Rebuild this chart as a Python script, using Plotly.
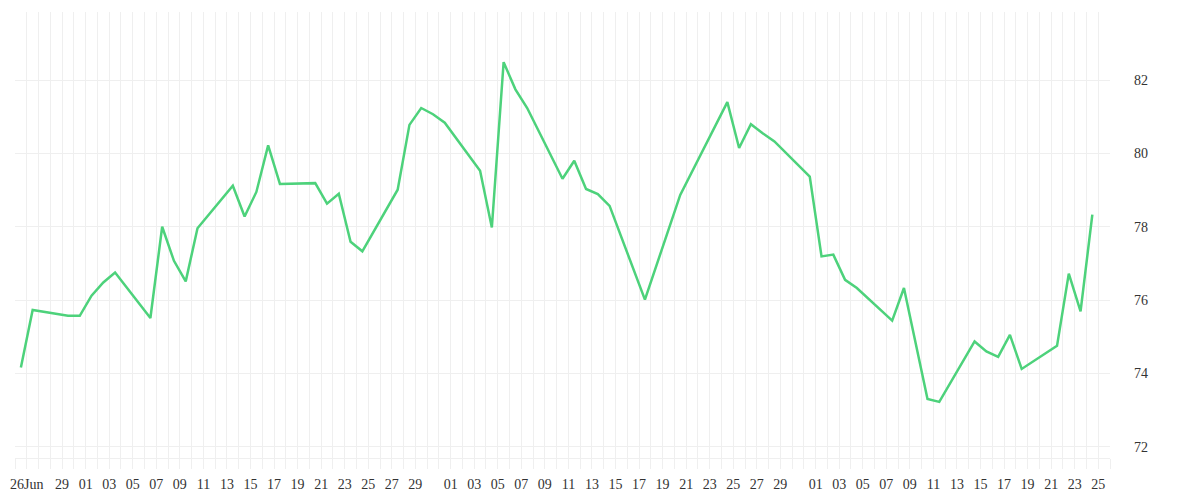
import pandas as pd
import plotly.graph_objects as go

# daily values (trading days only)
dates = ["2020-06-25", "2020-06-26", "2020-06-29", "2020-06-30",
         "2020-07-01", "2020-07-02", "2020-07-03", "2020-07-06", "2020-07-07",
         "2020-07-08", "2020-07-09", "2020-07-10", "2020-07-13", "2020-07-14",
         "2020-07-15", "2020-07-16", "2020-07-17", "2020-07-20", "2020-07-21",
         "2020-07-22", "2020-07-23", "2020-07-24", "2020-07-27", "2020-07-28",
         "2020-07-29", "2020-07-30", "2020-07-31",
         "2020-08-03", "2020-08-04", "2020-08-05", "2020-08-06", "2020-08-07",
         "2020-08-10", "2020-08-11", "2020-08-12", "2020-08-13", "2020-08-14",
         "2020-08-17", "2020-08-20", "2020-08-24", "2020-08-25", "2020-08-26",
         "2020-08-27", "2020-08-28", "2020-08-31",
         "2020-09-01", "2020-09-02", "2020-09-03", "2020-09-04", "2020-09-07",
         "2020-09-08", "2020-09-10", "2020-09-11", "2020-09-14", "2020-09-15",
         "2020-09-16", "2020-09-17", "2020-09-18", "2020-09-21", "2020-09-22",
         "2020-09-23", "2020-09-24"]

values = [74.16, 75.73, 75.57, 75.57,
          76.12, 76.48, 76.75, 75.51, 78.0,
          77.07, 76.51, 77.96, 79.12, 78.28,
          78.95, 80.22, 79.17, 79.19, 78.63,
          78.90, 77.59, 77.33, 79.01, 80.78,
          81.24, 81.07, 80.84,
          79.53, 77.98, 82.49, 81.75, 81.24,
          79.31, 79.80, 79.03, 78.89, 78.57,
          76.01, 78.87, 81.40, 80.15, 80.80,
          80.55, 80.33, 79.37,
          77.19, 77.24, 76.55, 76.33, 75.44,
          76.33, 73.30, 73.22, 74.87, 74.60,
          74.45, 75.05, 74.12, 74.75, 76.72,
          75.69, 78.33]

tick_dates = ["2020-06-26", "2020-06-29",
              "2020-07-01", "2020-07-03", "2020-07-05", "2020-07-07", "2020-07-09",
              "2020-07-11", "2020-07-13", "2020-07-15", "2020-07-17", "2020-07-19",
              "2020-07-21", "2020-07-23", "2020-07-25", "2020-07-27", "2020-07-29",
              "2020-08-01", "2020-08-03", "2020-08-05", "2020-08-07", "2020-08-09",
              "2020-08-11", "2020-08-13", "2020-08-15", "2020-08-17", "2020-08-19",
              "2020-08-21", "2020-08-23", "2020-08-25", "2020-08-27", "2020-08-29",
              "2020-09-01", "2020-09-03", "2020-09-05", "2020-09-07", "2020-09-09",
              "2020-09-11", "2020-09-13", "2020-09-15", "2020-09-17", "2020-09-19",
              "2020-09-21", "2020-09-23", "2020-09-25"]
tick_labels = ["26Jun", "29",
               "01", "03", "05", "07", "09", "11", "13", "15", "17", "19",
               "21", "23", "25", "27", "29",
               "01", "03", "05", "07", "09", "11", "13", "15", "17", "19",
               "21", "23", "25", "27", "29",
               "01", "03", "05", "07", "09", "11", "13", "15", "17", "19",
               "21", "23", "25"]

y_ticks = [72, 74, 76, 78, 80, 82]

# points sit half a day after the day gridline
x = pd.to_datetime(dates) + pd.Timedelta(hours=12)

# one gridline per day, labels only on the listed days
days = pd.date_range("2020-06-25", "2020-09-26", freq="D")
lab = dict(zip(pd.to_datetime(tick_dates), tick_labels))
grid_text = [lab.get(d, "") for d in days]

grid = "#efefef"
font = dict(family="Liberation Serif", size=14, color="#333333")

fig = go.Figure()
fig.add_trace(go.Scatter(
    x=x, y=values, mode="lines",
    line=dict(color="#4dd27b", width=2.5),
    hoverinfo="x+y"
))

# page body adds 8px, so the figure is a bit smaller than the window
fig.update_layout(
    width=1192, height=492,
    margin=dict(l=7, r=90, t=4, b=42),
    paper_bgcolor="white", plot_bgcolor="white",
    showlegend=False,
    font=font,
)
fig.update_xaxes(
    type="date",
    range=["2020-06-25", "2020-09-26"],
    tickmode="array", tickvals=days, ticktext=grid_text,
    showgrid=True, gridcolor=grid, gridwidth=1,
    ticks="outside", ticklen=10, tickcolor=grid, tickwidth=1,
    showline=True, linecolor=grid, linewidth=1,
    zeroline=False, tickfont=font, tickangle=0,
    ticklabelstandoff=3, automargin=False,
)
fig.update_yaxes(
    range=[71.69, 83.86],
    side="right",
    tickmode="array", tickvals=y_ticks,
    showgrid=True, gridcolor=grid, gridwidth=1,
    showline=False, zeroline=False, ticks="",
    tickfont=font, ticklabelstandoff=23, automargin=False,
)

fig.write_html("out.html")
